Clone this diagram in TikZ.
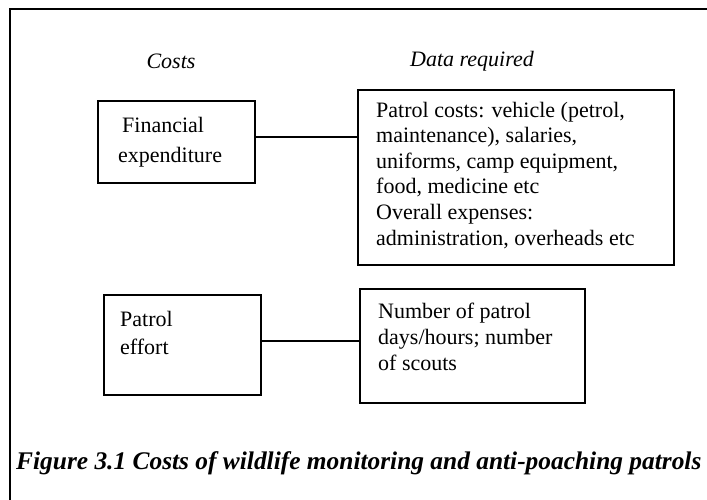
\documentclass[tikz,border=0pt]{standalone}
\usepackage{fontspec}
\setmainfont{Liberation Serif}
\begin{document}
\begin{tikzpicture}[x=1pt,y=-1pt,
  box/.style={draw=black, line width=1.5pt, inner sep=0pt},
  body/.style={inner sep=0pt, anchor=base west, align=left, font=\fontsize{22}{25.6}\selectfont},
  head/.style={inner sep=0pt, anchor=base, font=\fontsize{22}{26}\selectfont\itshape},
  link/.style={draw=black, line width=1.4pt}]
\useasboundingbox (0,0) rectangle (707,499);
\fill[white] (0,0) rectangle (707,499);
% outer frame (right and bottom edges lie outside the picture)
\coordinate (frameBL) at (10,520);
\coordinate (frameTL) at (10,9);
\coordinate (frameTR) at (730,9);
\begin{scope}
\clip (0,0) rectangle (707,499);
\draw[line width=1.8pt, black] (frameBL) -- (frameTL) -- (frameTR);
\end{scope}

\node[head] (costs) at (171,68) {Costs};
\node[head] (data) at (472,66) {Data required};

\node[box, minimum width=157pt, minimum height=82pt] (fin) at (176.5,142) {};
\node[box, minimum width=316pt, minimum height=175pt] (pc) at (516,177.5) {};
\node[box, minimum width=157pt, minimum height=100pt] (pe) at (182.5,345) {};
\node[box, minimum width=225pt, minimum height=114pt] (num) at (472.5,346) {};

% multi-line nodes: the base anchor lies on the last line's baseline
\node[body, font=\fontsize{22}{30}\selectfont] (fintext) at (118,162) {\hspace*{4pt}Financial\\expenditure};
\node[body] (pctext) at (376,245) {Patrol costs: vehicle (petrol,\\maintenance), salaries,\\uniforms, camp equipment,\\food, medicine etc\\Overall expenses:\\administration, overheads etc};
\node[body, font=\fontsize{22}{28}\selectfont] (petext) at (120,354) {Patrol\\effort};
\node[body, font=\fontsize{22}{26}\selectfont] (numtext) at (378,370) {Number of patrol\\days/hours; number\\of scouts};

\draw[link] ([yshift=5pt]fin.east) -- ([yshift=5pt]fin.east -| pc.west);
\draw[link] ([yshift=4pt]pe.east) -- ([yshift=4pt]pe.east -| num.west);

\node[inner sep=0pt, anchor=base west, font=\fontsize{25.4}{30}\selectfont\bfseries\itshape] (caption) at (16,469) {Figure 3.1 Costs of wildlife monitoring and anti-poaching patrols};
\end{tikzpicture}
\end{document}
